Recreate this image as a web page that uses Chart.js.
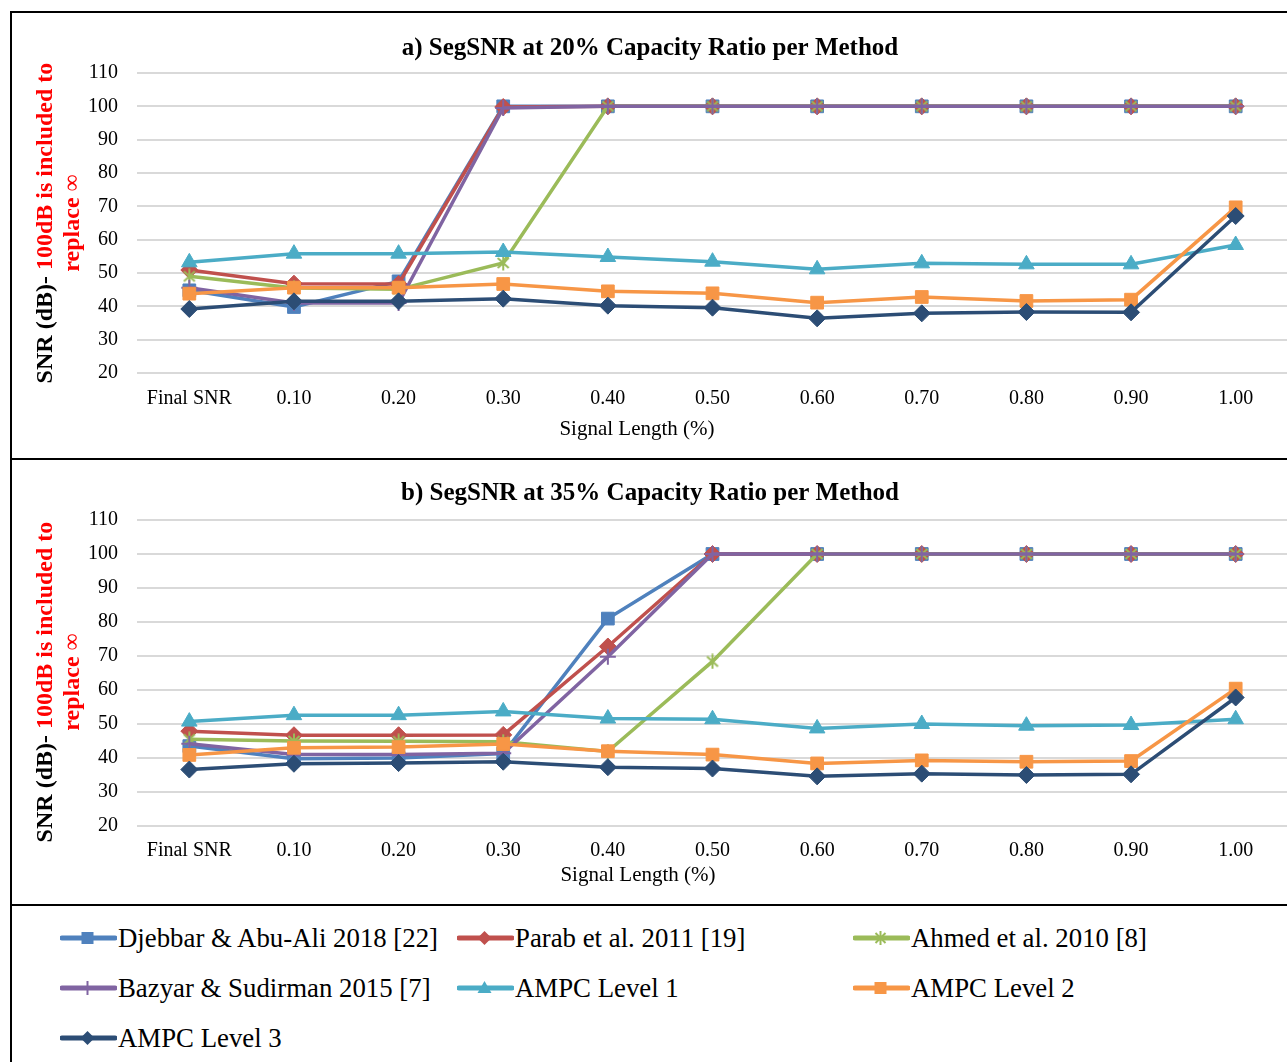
<!DOCTYPE html>
<html><head><meta charset="utf-8">
<script src="https://cdn.jsdelivr.net/npm/chart.js@4.4.0/dist/chart.umd.min.js"></script>
<style>
html,body{margin:0;padding:0;background:#fff;}
body{width:1287px;height:1062px;overflow:hidden;position:relative;font-family:"Liberation Serif","Times New Roman",serif;color:#000;}
.frame{position:absolute;left:10px;top:11px;width:1300px;height:1100px;border-left:2px solid #000;border-top:2px solid #000;}
.sep{position:absolute;left:10px;width:1300px;height:2px;background:#000;}
canvas{position:absolute;}
.ytitle{position:absolute;width:380px;height:56px;text-align:center;font-weight:bold;font-size:24px;line-height:27px;transform:rotate(-90deg);white-space:nowrap;}
.red{color:#ff0000;}
.thin{font-weight:normal;}
.xtitle{position:absolute;font-size:21px;transform:translate(-50%,-50%);white-space:nowrap;}
.leg{position:absolute;display:flex;align-items:center;font-size:26.8px;white-space:nowrap;height:30px;}
.leg svg{margin-right:1px;}
</style></head>
<body>
<div class="frame"></div>
<div class="sep" style="top:458px"></div>
<div class="sep" style="top:904px"></div>
<canvas id="cA" width="1290" height="445" style="left:12px;top:13px;width:1290px;height:445px"></canvas>
<canvas id="cB" width="1290" height="444" style="left:12px;top:460px;width:1290px;height:444px"></canvas>
<div class="ytitle" style="left:-131.5px;top:195px">SNR (dB)- <span class="red">100dB is included to</span><br><span class="red">replace <span class="thin">∞</span></span></div>
<div class="ytitle" style="left:-131.5px;top:654px">SNR (dB)- <span class="red">100dB is included to</span><br><span class="red">replace <span class="thin">∞</span></span></div>
<div class="xtitle" style="left:637px;top:428px">Signal Length (%)</div>
<div class="xtitle" style="left:638px;top:874px">Signal Length (%)</div>
<div id="legend"></div>
<script>
// ---- data ----
const categories = ['Final SNR','0.10','0.20','0.30','0.40','0.50','0.60','0.70','0.80','0.90','1.00'];
const seriesNames = ['Djebbar & Abu-Ali 2018 [22]','Parab et al. 2011 [19]','Ahmed et al. 2010 [8]','Bazyar & Sudirman 2015 [7]','AMPC Level 1','AMPC Level 2','AMPC Level 3'];
const titleA = 'a) SegSNR at 20% Capacity Ratio per Method';
const titleB = 'b) SegSNR at 35% Capacity Ratio per Method';

// panel a: 20% capacity ratio
const aDjebbar = [44.8, 39.8, 47.5, 100, 100, 100, 100, 100, 100, 100, 100];
const aParab   = [50.9, 46.8, 46.7, 99.8, 100, 100, 100, 100, 100, 100, 100];
const aAhmed   = [49.0, 45.5, 45.1, 53.0, 100, 100, 100, 100, 100, 100, 100];
const aBazyar  = [45.6, 41.0, 41.0, 99.5, 100, 100, 100, 100, 100, 100, 100];
const aAmpc1   = [53.2, 55.8, 55.8, 56.3, 54.8, 53.4, 51.1, 52.9, 52.6, 52.6, 58.4];
const aAmpc2   = [43.8, 45.6, 45.6, 46.7, 44.5, 43.9, 41.1, 42.8, 41.6, 42.0, 69.7];
const aAmpc3   = [39.2, 41.5, 41.5, 42.3, 40.2, 39.6, 36.4, 37.9, 38.3, 38.2, 67.1];

// panel b: 35% capacity ratio
const bDjebbar = [43.5, 39.8, 40.0, 41.3, 81.0, 100, 100, 100, 100, 100, 100];
const bParab   = [47.9, 46.7, 46.7, 46.8, 72.8, 100, 100, 100, 100, 100, 100];
const bAhmed   = [45.5, 45.0, 44.9, 44.8, 41.9, 68.4, 100, 100, 100, 100, 100];
const bBazyar  = [44.2, 41.0, 41.0, 41.4, 69.8, 100, 100, 100, 100, 100, 100];
const bAmpc1   = [50.7, 52.6, 52.6, 53.7, 51.6, 51.4, 48.7, 50.0, 49.5, 49.7, 51.4];
const bAmpc2   = [40.9, 43.0, 43.2, 44.1, 42.0, 41.0, 38.4, 39.3, 38.9, 39.1, 60.4];
const bAmpc3   = [36.6, 38.3, 38.5, 38.9, 37.3, 36.9, 34.6, 35.4, 35.0, 35.2, 57.8];

const yMin = 20, yMax = 110, yStep = 10;

// ---- styles ----
const colors = ['#4F81BD','#C0504D','#9BBB59','#8064A2','#4BACC6','#F79646','#2C4D75'];
const pointStyles = ['rect','rectRot','asterisk','cross','triangle','rect','rectRot'];
const pointRadii = [9, 8.5, 7, 8, 9, 9, 8.5];

// Excel-like asterisk marker (X with vertical bar)
function asteriskMarker(color){
  const c = document.createElement('canvas');
  c.width = 16; c.height = 16;
  const g = c.getContext('2d');
  g.strokeStyle = color; g.lineWidth = 2;
  g.beginPath();
  g.moveTo(2.5,3); g.lineTo(13.5,13);
  g.moveTo(2.5,13); g.lineTo(13.5,3);
  g.moveTo(8,0.5); g.lineTo(8,15.5);
  g.stroke();
  return c;
}

function buildDatasets(seriesList){
  return seriesList.map((vals, i) => ({
    label: seriesNames[i],
    data: vals,
    borderColor: colors[i],
    backgroundColor: colors[i],
    pointBackgroundColor: colors[i],
    pointBorderColor: colors[i],
    pointStyle: pointStyles[i] === 'asterisk' ? asteriskMarker(colors[i]) : pointStyles[i],
    pointRadius: pointRadii[i],
    pointBorderWidth: pointStyles[i]==='cross' ? 2 : 1,
    borderWidth: 3.5,
    tension: 0,
    order: -i
  }));
}

function makeChart(id, title, seriesList, tPadTop, tPadBottom, xHeight, tickPad){
  return new Chart(document.getElementById(id), {
    type: 'line',
    data: { labels: categories, datasets: buildDatasets(seriesList) },
    options: {
      responsive: false,
      devicePixelRatio: 1,
      animation: false,
      events: [],
      layout: { padding: { left: 0, right: 14, top: 0, bottom: 0 } },
      plugins: {
        legend: { display: false },
        tooltip: { enabled: false },
        title: {
          display: true, text: title, color: '#000',
          font: { family: '"Liberation Serif", serif', size: 25, weight: 'bold', lineHeight: 1.2 },
          padding: { top: tPadTop, bottom: tPadBottom }
        }
      },
      scales: {
        x: {
          offset: true,
          grid: { display: false, drawTicks: false },
          border: { display: false },
          ticks: { color: '#000', padding: tickPad, font: { family: '"Liberation Serif", serif', size: 20, lineHeight: 1.2 }, maxRotation: 0, autoSkip: false },
          afterFit: s => { s.height = xHeight; }
        },
        y: {
          min: yMin, max: yMax,
          grid: { color: '#d9d9d9', lineWidth: 2, drawTicks: false },
          border: { display: false },
          ticks: { stepSize: yStep, color: '#000', padding: 19, font: { family: '"Liberation Serif", serif', size: 20, lineHeight: 1.2 } },
          afterFit: s => { s.width = 125; }
        }
      }
    }
  });
}

makeChart('cA', titleA, [aDjebbar,aParab,aAhmed,aBazyar,aAmpc1,aAmpc2,aAmpc3], 21, 9, 85, 14);
makeChart('cB', titleB, [bDjebbar,bParab,bAhmed,bBazyar,bAmpc1,bAmpc2,bAmpc3], 19, 11, 78, 13);

// ---- legend (HTML) ----
function markerSvg(i){
  const c = colors[i], s = pointStyles[i];
  let m = '';
  const cx = 27.5, cy = 10;
  if (s === 'rect') m = `<rect x="${cx-6}" y="${cy-6}" width="12" height="12" fill="${c}"/>`;
  else if (s === 'rectRot') m = `<polygon points="${cx},${cy-7} ${cx+7},${cy} ${cx},${cy+7} ${cx-7},${cy}" fill="${c}"/>`;
  else if (s === 'triangle') m = `<polygon points="${cx},${cy-7} ${cx+7},${cy+5} ${cx-7},${cy+5}" fill="${c}"/>`;
  else if (s === 'asterisk') m = `<g stroke="${c}" stroke-width="2"><line x1="${cx-5}" y1="${cy-5}" x2="${cx+5}" y2="${cy+5}"/><line x1="${cx-5}" y1="${cy+5}" x2="${cx+5}" y2="${cy-5}"/><line x1="${cx}" y1="${cy-7}" x2="${cx}" y2="${cy+7}"/></g>`;
  else if (s === 'cross') m = `<g stroke="${c}" stroke-width="2"><line x1="${cx}" y1="${cy-7}" x2="${cx}" y2="${cy+7}"/></g>`;
  return `<svg width="57" height="20" viewBox="0 0 57 20"><line x1="2" y1="10" x2="55" y2="10" stroke="${c}" stroke-width="5" stroke-linecap="round"/>${m}</svg>`;
}
const legCols = [60, 457, 853];
const legRows = [938, 988, 1038];
const legEl = document.getElementById('legend');
seriesNames.forEach((name, i) => {
  const d = document.createElement('div');
  d.className = 'leg';
  d.style.left = legCols[i % 3] + 'px';
  d.style.top = (legRows[Math.floor(i / 3)] - 15) + 'px';
  d.innerHTML = markerSvg(i) + '<span>' + name.replace(/&/g,'&amp;') + '</span>';
  legEl.appendChild(d);
});
</script>
</body></html>
